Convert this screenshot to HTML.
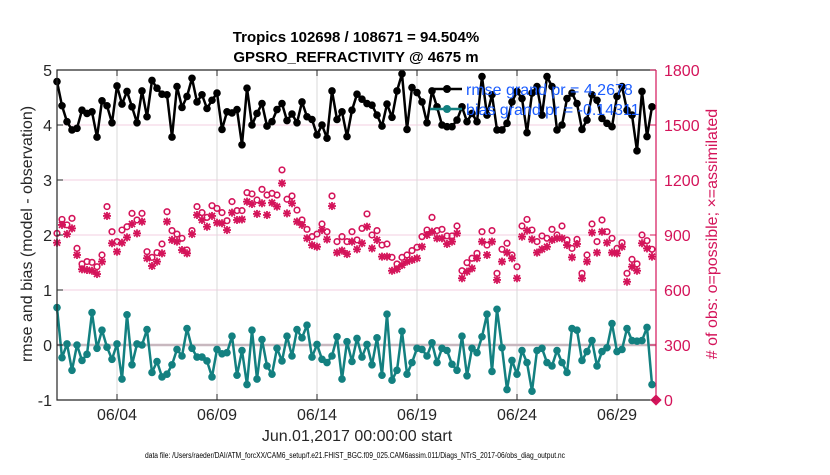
<!DOCTYPE html>
<html><head><meta charset="utf-8"><style>
html,body{margin:0;padding:0;background:#fff;}
svg text{font-family:"Liberation Sans",sans-serif;}
</style></head><body>
<svg id="chart" width="830" height="470" xmlns="http://www.w3.org/2000/svg">
<text x="356" y="42" text-anchor="middle" font-size="15" font-weight="bold" fill="#000">Tropics 102698 / 108671 = 94.504%</text>
<text x="356" y="62" text-anchor="middle" font-size="15" font-weight="bold" fill="#000">GPSRO_REFRACTIVITY @ 4675 m</text>
<g id="grid"></g>
<g id="series"></g>
<g id="axes"></g>
<text transform="translate(32,234) rotate(-90)" text-anchor="middle" font-size="16" fill="#262626">rmse and bias (model - observation)</text>
<text transform="translate(717,234) rotate(-90)" text-anchor="middle" font-size="16" fill="#d4145a"># of obs: o=possible; ×=assimilated</text>
<text x="357" y="441" text-anchor="middle" font-size="16" fill="#262626">Jun.01,2017 00:00:00 start</text>
<text x="355" y="458" text-anchor="middle" font-size="8" fill="#000" textLength="420" lengthAdjust="spacingAndGlyphs">data file: /Users/raeder/DAI/ATM_forcXX/CAM6_setup/f.e21.FHIST_BGC.f09_025.CAM6assim.011/Diags_NTrS_2017-06/obs_diag_output.nc</text>
<g id="legend">
<line x1="430" y1="89" x2="462" y2="89" stroke="#000" stroke-width="2.5"/>
<circle cx="447" cy="89" r="4" fill="#000"/>
<text x="466" y="95" font-size="16" fill="#1a5cff">rmse grand pr = 4.2678</text>
<line x1="430" y1="109" x2="462" y2="109" stroke="#138080" stroke-width="2.5"/>
<circle cx="447" cy="109" r="4" fill="#138080"/>
<text x="466" y="115" font-size="16" fill="#1a5cff">bias grand pr = -0.14311</text>
</g>
</svg>
<script>
const rmse=[4.79,4.35,4.06,3.91,3.94,4.27,4.21,4.24,3.78,4.44,4.35,4.04,4.71,4.38,4.61,4.33,4.04,4.62,4.15,4.81,4.67,4.56,4.55,3.78,4.70,4.32,4.52,4.85,4.42,4.55,4.30,4.45,4.58,3.92,4.24,4.22,4.28,3.64,4.67,4.0,4.21,
4.39,3.98,4.06,4.28,4.39,4.08,4.2,4.04,4.42,4.15,4.1,3.82,4.0,3.76,4.62,4.1,4.24,3.79,4.27,4.56,4.47,4.39,4.36,4.18,3.98,4.38,4.14,4.62,4.93,3.92,4.68,4.59,4.42,4.04,4.62,4.33,4.0,3.97,3.97,4.09,
4.33,4.06,4.21,4.06,4.88,4.18,4.55,3.91,3.91,4.03,4.42,4.61,4.48,3.86,4.58,4.70,4.18,4.88,4.70,3.91,4.0,4.48,4.58,4.39,3.92,4.09,4.55,4.45,4.12,4.03,3.97,4.52,4.70,4.27,4.18,3.53,4.61,3.79,4.33];
const bias=[0.68,-0.23,0.02,-0.46,0,-0.28,-0.17,0.59,-0.06,0.27,-0.04,-0.26,0.02,-0.62,0.55,-0.36,0.02,0,0.28,-0.5,-0.3,-0.58,-0.53,-0.36,-0.08,-0.2,0.3,-0.06,-0.22,-0.22,-0.29,-0.58,-0.08,-0.16,-0.14,0.16,-0.55,-0.1,-0.72,0.27,-0.62,
0.1,-0.38,-0.53,-0.06,-0.29,0.16,-0.2,0.28,0.13,0.36,-0.22,0.01,-0.26,-0.32,-0.2,0.15,-0.62,0.06,-0.3,0.12,-0.22,0.01,-0.36,0.13,-0.55,0.56,-0.64,-0.46,0.25,-0.53,-0.32,-0.06,-0.08,-0.2,0.04,-0.32,-0.06,-0.1,-0.35,-0.46,
0.16,-0.56,-0.06,-0.14,0.15,0.56,-0.48,0.65,-0.05,-0.81,-0.28,-0.53,-0.1,-0.32,-0.84,-0.1,-0.06,-0.32,-0.38,-0.1,-0.32,-0.5,0.3,0.27,-0.28,-0.12,0.08,-0.38,-0.12,-0.05,0.39,-0.12,-0.08,0.3,0.08,0.07,0.08,0.32,-0.72];
const possible=[909,985,955,991,827,742,755,751,727,791,1055,918,864,927,945,1018,982,1018,809,778,804,851,1027,924,905,882,818,924,1055,1022,996,1060,1045,1022,978,1082,1033,1033,1131,1124,1091,
1149,1118,1127,1118,1255,1095,1113,1036,982,931,891,905,960,918,1113,864,891,864,918,873,936,1015,900,924,845,851,778,742,778,791,815,833,891,927,996,924,931,895,895,949,
705,749,773,800,918,845,924,691,822,855,791,727,949,985,927,864,895,882,931,900,949,873,827,876,691,791,960,864,982,918,882,827,858,691,767,742,900,869,822];
const assimilated=[858,955,905,936,791,713,709,705,687,755,1004,855,809,858,887,960,909,973,773,731,755,800,973,873,864,818,800,905,1009,982,945,1004,967,964,927,1022,982,985,1082,1069,1015,
1073,1009,1076,1055,1182,1018,1073,973,955,882,845,836,927,876,1058,804,815,796,864,822,855,945,827,873,782,782,705,713,736,755,764,773,836,900,918,882,882,851,864,909,
664,700,718,773,864,791,864,655,755,804,773,664,891,924,876,804,822,836,873,882,882,845,778,851,664,755,913,804,918,858,804,800,836,645,727,705,855,827,782];
const leftTicks=[-1,0,1,2,3,4,5];
const rightTicks=[0,300,600,900,1200,1500,1800];
const xTickDays=[3,8,13,18,23,28];
const xTickLabels=["06/04","06/09","06/14","06/19","06/24","06/29"];
const finalCount=0;

const L=57,R=656,T=70,B=400,NS="http://www.w3.org/2000/svg";
const xs=d=>L+d*(R-L)/29.95;
const xi=i=>xs(i*0.25);
const yL=v=>B-(v+1)*(B-T)/6;
const yR=v=>B-v*(B-T)/1800;
function mk(tag,attrs,parent){const e=document.createElementNS(NS,tag);for(const k in attrs)e.setAttribute(k,attrs[k]);parent.appendChild(e);return e;}
const grid=document.getElementById('grid'),ser=document.getElementById('series'),ax=document.getElementById('axes');
leftTicks.forEach(v=>{if(v>-1&&v<5&&v!==0){const g=mk('line',{x1:L,x2:R,y1:yL(v),y2:yL(v),stroke:'#f3cfe0','stroke-width':1},grid);

}});
xTickDays.forEach(d=>{const g=mk('line',{x1:xs(d),x2:xs(d),y1:T,y2:B,stroke:'#d9d9d9','stroke-width':1},grid);

});
const zl=mk('line',{x1:L,x2:R,y1:yL(0),y2:yL(0),stroke:'#c8b8bf','stroke-width':2.5},grid);


// obs counts
assimilated.forEach((v,i)=>{const x=xi(i),y=yR(v),r=4;
const g=mk('g',{stroke:'#d4145a','stroke-width':1.8},ser);


mk('line',{x1:x-r,x2:x+r,y1:y,y2:y},g);mk('line',{x1:x,x2:x,y1:y-r,y2:y+r},g);
mk('line',{x1:x-3,x2:x+3,y1:y-3,y2:y+3},g);mk('line',{x1:x-3,x2:x+3,y1:y+3,y2:y-3},g);});
possible.forEach((v,i)=>{const c=mk('circle',{cx:xi(i),cy:yR(v),r:2.8,fill:'none',stroke:'#d4145a','stroke-width':1.6},ser);

});
function series(arr,col,name){const p=mk('polyline',{points:arr.map((v,i)=>xi(i)+','+yL(v)).join(' '),fill:'none',stroke:col,'stroke-width':2.5,'stroke-linejoin':'round'},ser);


arr.forEach((v,i)=>{const c=mk('circle',{cx:xi(i),cy:yL(v),r:3.8,fill:col},ser);

});}
series(bias,'#138080','bias');
series(rmse,'#000','rmse');
const fm=mk('rect',{x:R-4,y:yR(finalCount)-4,width:8,height:8,fill:'#d4145a',transform:`rotate(45 ${R} ${yR(finalCount)})`},ser);


// axes
const fr=mk('path',{d:`M${R},${T}H${L}V${B}H${R}`,fill:'none',stroke:'#262626','stroke-width':1.2},ax);


const ra=mk('line',{x1:R,x2:R,y1:T,y2:B,stroke:'#d4145a','stroke-width':1.2},ax);


leftTicks.forEach(v=>{mk('line',{x1:L,x2:L+6,y1:yL(v),y2:yL(v),stroke:'#262626'},ax);
const t=mk('text',{x:L-5,y:yL(v)+6,'text-anchor':'end','font-size':16,fill:'#262626'},ax);t.textContent=v;

});
rightTicks.forEach(v=>{mk('line',{x1:R-6,x2:R,y1:yR(v),y2:yR(v),stroke:'#d4145a'},ax);
const t=mk('text',{x:R+8,y:yR(v)+6,'font-size':16,fill:'#d4145a'},ax);t.textContent=v;

});
xTickDays.forEach((d,k)=>{mk('line',{x1:xs(d),x2:xs(d),y1:B,y2:B-6,stroke:'#262626'},ax);mk('line',{x1:xs(d),x2:xs(d),y1:T,y2:T+6,stroke:'#262626'},ax);
const t=mk('text',{x:xs(d),y:420,'text-anchor':'middle','font-size':16,fill:'#262626'},ax);t.textContent=xTickLabels[k];

});
</script>
</body></html>
